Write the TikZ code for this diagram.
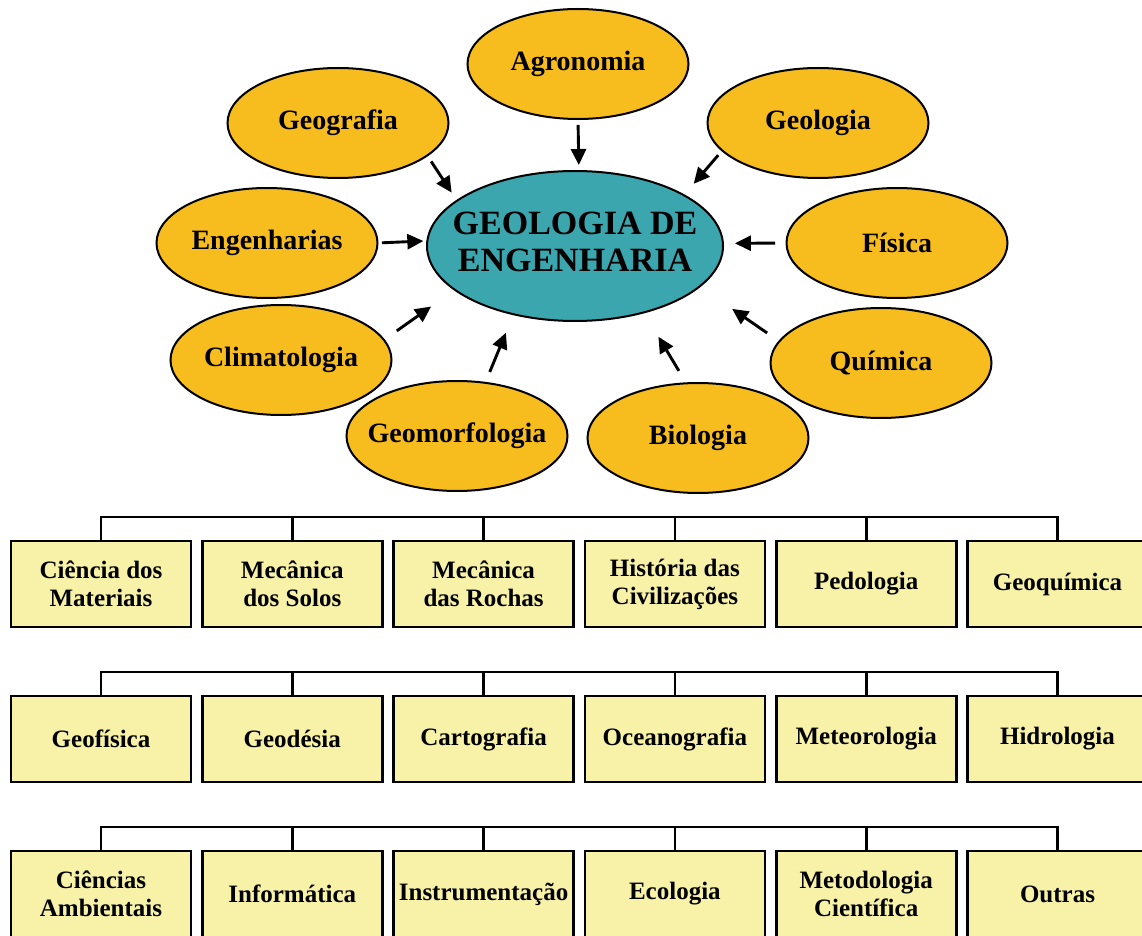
\documentclass[tikz,border=0pt]{standalone}
\usepackage{fontspec}
\setmainfont{Liberation Serif}
\usetikzlibrary{shapes.geometric,arrows.meta}

\definecolor{ouro}{RGB}{247,189,31}
\definecolor{petroleo}{RGB}{59,166,174}
\definecolor{palha}{RGB}{247,242,168}

% text that does not widen the ellipse
\newcommand{\rotulo}[1]{\makebox[0pt]{#1}}

\begin{document}
\begin{tikzpicture}[x=0.5pt,y=-0.5pt,font=\bfseries,
        area/.style={ellipse,draw,line width=1pt,fill=ouro,inner sep=0pt,outer sep=0pt,
            minimum width=110.5pt,minimum height=55pt,font=\fontsize{14}{16}\selectfont\bfseries},
        nucleo/.style={area,fill=petroleo,minimum width=148pt,minimum height=75pt,
            font=\fontsize{17}{18.5}\selectfont\bfseries},
        seta/.style={line width=1.45pt,-{Triangle[length=8pt,width=7.5pt]}},
        caixa/.style={draw,line width=1.4pt,fill=palha,inner sep=1pt,outer sep=0pt,
            minimum width=90pt,minimum height=43pt,align=center,
            font=\fontsize{12.5}{14}\selectfont\bfseries},
        chave/.style={line width=1.4pt}]
        \useasboundingbox (0,0) rectangle (1142,936);

        % Row macro:
        % #1 = row number
        % #2 = y-centre of the boxes
        % #3 = box labels, left to right
        \newcommand{\linha}[3]{%
            \foreach \txt [count=\i] in {#3} {
                \pgfmathsetmacro{\xc}{101+191.3*(\i-1)}
                \node[caixa] (r#1c\i) at (\xc,#2) {\txt};
            }
            % bracket over the row
            \draw[chave] (r#1c1.north) -- ++(0,-24) -| (r#1c6.north);
            \foreach \i in {2,...,5} {
                \draw[chave] (r#1c\i.north) -- ++(0,-24);
            }
        }

        % centre
        \node[nucleo] (centro) at (575,246)
            {\rotulo{\begin{tabular}{@{}c@{}}GEOLOGIA DE\\ENGENHARIA\end{tabular}}};

        % ring of sciences
        \foreach \nome/\x/\y/\txt in {agro/578/64/Agronomia, geog/338/123/Geografia,
                geol/818/123/Geologia, eng/267/243/Engenharias, fis/897/243/Física,
                clim/281/360/Climatologia, quim/881/363/Química,
                geom/457/436/Geomorfologia, bio/698/438/Biologia} {
            \node[area] (\nome) at (\x,\y) {\rotulo{\txt}};
        }

        % arrows into the centre
        \foreach \de/\a/\b/\sa/\sb in {agro/270/87.7/3/3, geog/-20.6/159.2/3.6/4.85,
                geol/-164/25.9/3.1/7.5, eng/0/178.84/2.25/2, fis/180/1.16/5.75/6,
                clim/11/200.5/7.9/14.5, quim/168/-18.1/7.45/19.75,
                geom/62/228.8/5.9/10, bio/102.8/-44.9/7.25/14.2} {
            \draw[seta,shorten <=\sa pt,shorten >=\sb pt] (\de.\a) -- (centro.\b);
        }

        % rows
        \linha{1}{584}{Ciência dos\\Materiais, Mecânica\\dos Solos, Mecânica\\das Rochas,
            História das\\Civilizações, Pedologia, Geoquímica}
        \linha{2}{739}{Geofísica, Geodésia, Cartografia, Oceanografia, Meteorologia, Hidrologia}
        \linha{3}{894}{Ciências\\Ambientais, Informática, Instrumentação, Ecologia,
            Metodologia\\Científica, Outras}
    \end{tikzpicture}
\end{document}
